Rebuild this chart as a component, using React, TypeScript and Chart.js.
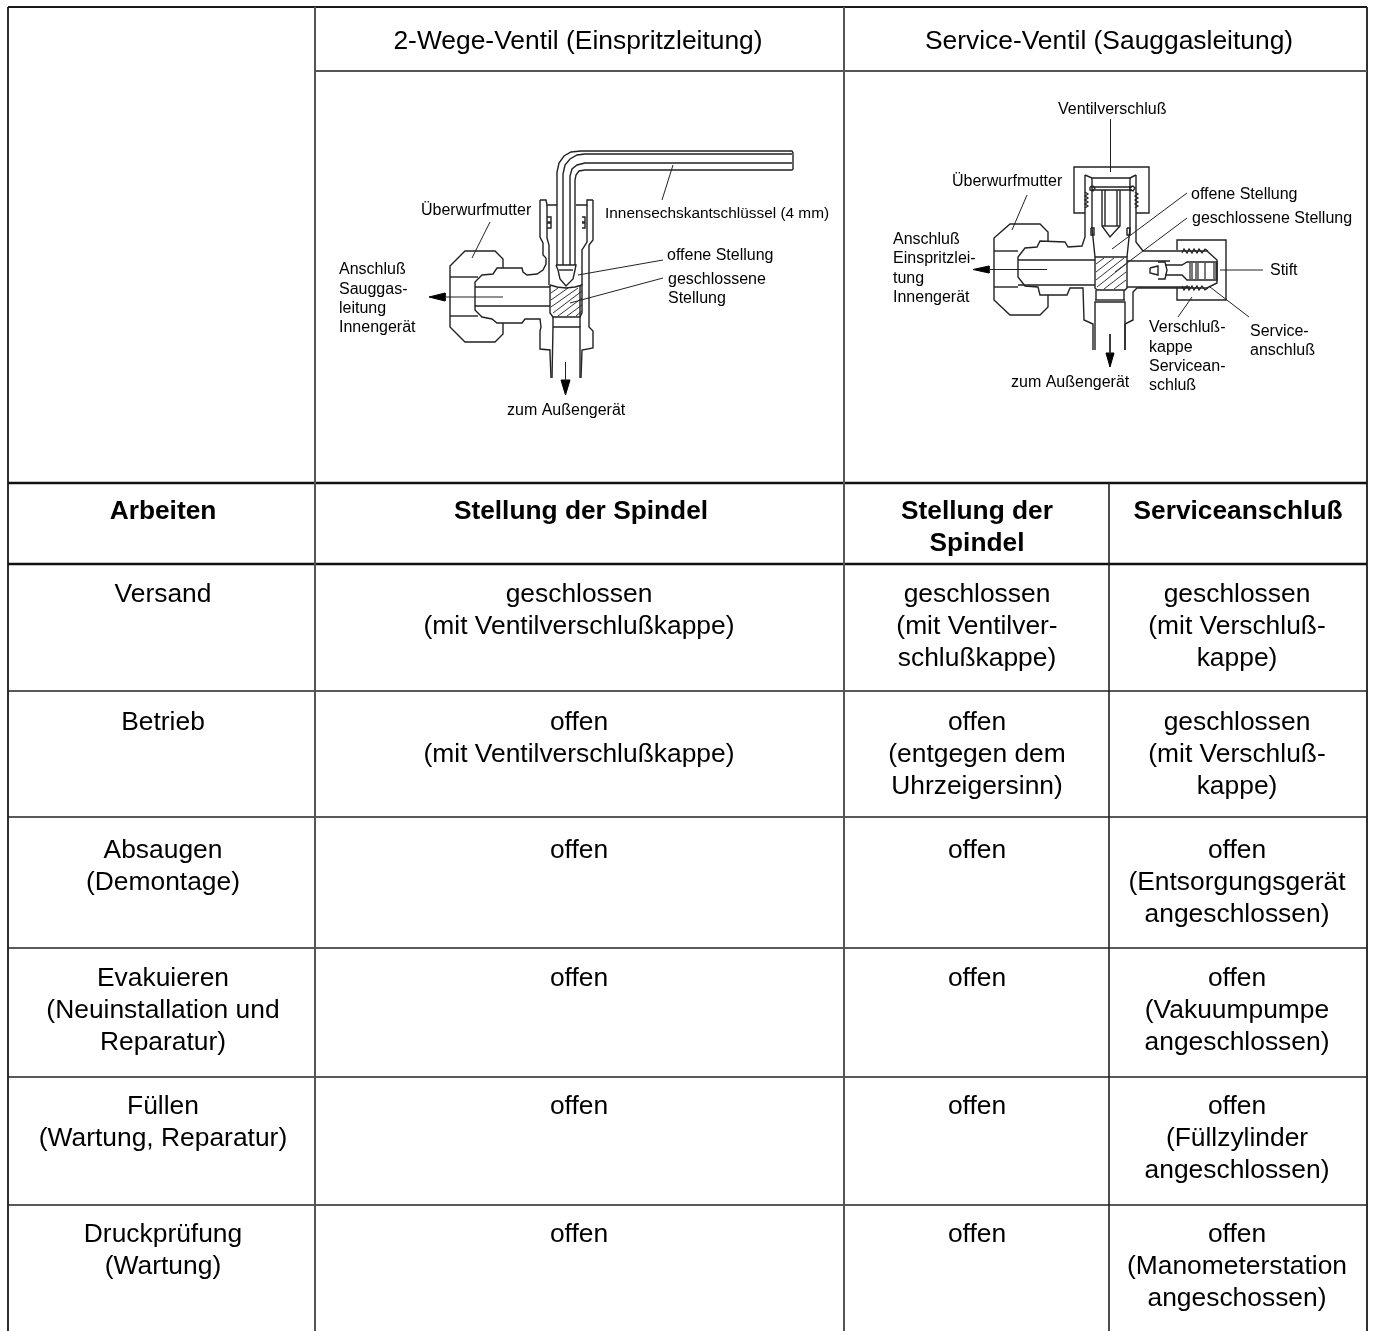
import React, { useEffect, useRef } from "react";
import { Chart, registerables } from "chart.js";

Chart.register(...registerables);

const W = 1374;
const H = 1331;

// ---------- text content ----------
const topHeaders = ["2-Wege-Ventil (Einspritzleitung)", "Service-Ventil (Sauggasleitung)"];
const boldHeaders = [["Arbeiten"], ["Stellung der Spindel"], ["Stellung der", "Spindel"], ["Serviceanschluß"]];
const categories = [
  ["Versand"],
  ["Betrieb"],
  ["Absaugen", "(Demontage)"],
  ["Evakuieren", "(Neuinstallation und", "Reparatur)"],
  ["Füllen", "(Wartung, Reparatur)"],
  ["Druckprüfung", "(Wartung)"],
];
const spindleTwoWay = [
  ["geschlossen", "(mit Ventilverschlußkappe)"],
  ["offen", "(mit Ventilverschlußkappe)"],
  ["offen"],
  ["offen"],
  ["offen"],
  ["offen"],
];
const spindleService = [
  ["geschlossen", "(mit Ventilver-", "schlußkappe)"],
  ["offen", "(entgegen dem", "Uhrzeigersinn)"],
  ["offen"],
  ["offen"],
  ["offen"],
  ["offen"],
];
const servicePort = [
  ["geschlossen", "(mit Verschluß-", "kappe)"],
  ["geschlossen", "(mit Verschluß-", "kappe)"],
  ["offen", "(Entsorgungsgerät", "angeschlossen)"],
  ["offen", "(Vakuumpumpe", "angeschlossen)"],
  ["offen", "(Füllzylinder", "angeschlossen)"],
  ["offen", "(Manometerstation", "angeschossen)"],
];

// ---------- table geometry ----------
const colX = [8, 315, 844, 1109, 1367];
const colCentersBody = [163, 579, 977, 1237];
const colCentersHead = [163, 581, 977, 1238];
const topRuleY = 7;
const subRuleY = 71;
const headRuleY = 483;
const boldRuleY = 564;
const rowRules = [691, 817, 948, 1077, 1205];
const rowTextY = [595, 723, 851, 979, 1107, 1235];

type P = [number, number];
const tableOuter: P[][] = [
  [[colX[0], topRuleY], [colX[4], topRuleY]],
  [[colX[0], topRuleY], [colX[0], H]],
  [[colX[4], topRuleY], [colX[4], H]],
];
const tableGrey: P[][] = [
  [[colX[1], subRuleY], [colX[4], subRuleY]],
  [[colX[1], topRuleY], [colX[1], H]],
  [[colX[2], topRuleY], [colX[2], H]],
];
const tableThin: P[][] = [
  [[colX[3], headRuleY], [colX[3], H]],
  ...rowRules.map((y): P[] => [[colX[0], y], [colX[4], y]]),
];
const tableBold: P[][] = [
  [[colX[0], headRuleY], [colX[4], headRuleY]],
  [[colX[0], boldRuleY], [colX[4], boldRuleY]],
];

// ---------- valve 1 outlines ----------
const valveOne: P[][] = [
  // hex key
  [[557, 265], [557, 172], [559, 163], [564, 156], [571, 152], [581, 151], [792, 151], [793, 153], [793, 169], [792, 170], [585, 170], [579, 171], [576, 175], [575, 180], [575, 265]],
  [[563, 265], [563, 174], [565, 165], [570, 159], [577, 155], [585, 154], [792, 154]],
  [[570, 265], [570, 176], [572, 169], [577, 165], [585, 163], [792, 163]],
  [[556, 265], [576, 265], [575, 270], [573, 279], [566, 286], [560, 279], [558, 270], [556, 265]],
  [[559, 270], [573, 270]],
  // nut
  [[503, 268], [503, 259], [495, 251], [465, 251], [450, 266], [450, 327], [465, 342], [495, 342], [503, 334], [503, 323]],
  [[450, 277], [478, 277]],
  [[450, 316], [478, 316]],
  // tube & body
  [[546, 258], [546, 264], [543, 270], [537, 274], [527, 275], [523, 272], [522, 268], [497, 268], [493, 274], [482, 275], [475, 282], [475, 310], [482, 317], [492, 319], [497, 323], [522, 323], [525, 319], [540, 319], [541, 327], [540, 331], [540, 349], [550, 350], [550, 353], [551, 378]],
  [[475, 287], [550, 287]],
  [[475, 306], [550, 306]],
  [[540, 200], [546, 200], [547, 205], [557, 205]],
  [[540, 200], [540, 237], [543, 243], [543, 255], [546, 258]],
  [[547, 205], [547, 238], [549, 245], [549, 262], [549, 285]],
  [[547, 217], [551, 217], [551, 222], [547, 222]],
  [[547, 223], [551, 223], [551, 228], [547, 228]],
  [[582, 217], [585, 217], [585, 222], [582, 222]],
  [[582, 223], [585, 223], [585, 228], [582, 228]],
  [[593, 200], [587, 200], [587, 205], [576, 205]],
  [[593, 200], [593, 240], [589, 245], [589, 327], [593, 331], [593, 348], [582, 350], [581, 378]],
  [[587, 205], [587, 242], [582, 250], [582, 285]],
  [[580, 285], [580, 327]],
  // spindle
  [[550, 285], [557, 287], [566, 288], [575, 287], [582, 285], [582, 313], [580, 317], [553, 317], [550, 313], [550, 285]],
  // outlet pipe
  [[553, 317], [553, 327], [552, 378]],
  [[553, 327], [580, 327], [580, 378]],
];
const valveOneHatch: P[][] = [
  [[551, 293], [558, 288]],
  [[551, 300], [568, 288]],
  [[551, 307], [578, 288]],
  [[553, 313], [582, 291]],
  [[558, 316], [582, 298]],
  [[567, 316], [582, 305]],
  [[576, 316], [582, 311]],
];
const valveOneLeaders: P[][] = [
  [[490, 222], [472, 258]],
  [[673, 165], [662, 200]],
  [[663, 260], [578, 275]],
  [[663, 278], [570, 303]],
  [[445, 297], [503, 297]],
  [[565.5, 362], [565.5, 381]],
];
const valveOneHeads: P[][] = [
  [[429, 297], [445, 293], [445, 301], [429, 297]],
  [[561, 380], [570, 380], [565.5, 395], [561, 380]],
];

// ---------- valve 2 outlines ----------
const valveTwo: P[][] = [
  // bonnet cap
  [[1085, 213], [1074, 213], [1074, 167], [1149, 167], [1149, 213], [1136, 213]],
  // body top
  [[1085, 175], [1085, 237], [1082, 246], [1068, 247], [1065, 242], [1040, 241], [1037, 247], [1025, 248], [1018, 257], [1018, 277], [1025, 286], [1038, 287], [1040, 295], [1067, 295], [1070, 288], [1083, 288], [1084, 320], [1093, 324], [1093, 350]],
  // nut
  [[1048, 241], [1048, 232], [1040, 224], [1010, 224], [994, 238], [994, 300], [1010, 315], [1040, 315], [1048, 307], [1048, 295]],
  [[994, 251], [1018, 251]],
  [[994, 287], [1018, 287]],
  // right side
  [[1136, 175], [1136, 242], [1143, 251], [1207, 251], [1217, 260], [1217, 283], [1207, 288], [1137, 288], [1133, 292], [1133, 320], [1125, 324], [1125, 350]],
  // service cap
  [[1177, 250], [1177, 240], [1226, 240], [1226, 300], [1177, 300], [1177, 288]],
  // core
  [[1165, 265], [1182, 265], [1187, 262], [1217, 262], [1217, 280], [1187, 280], [1182, 275], [1165, 275]],
  [[1158, 262], [1165, 262], [1167, 270], [1165, 279], [1158, 279]],
  [[1150, 268], [1158, 266], [1158, 275], [1150, 273], [1150, 268]],
  // tube
  [[1018, 260], [1095, 260]],
  [[1018, 285], [1095, 285]],
  [[1127, 261], [1170, 261]],
  [[1127, 287], [1190, 287]],
  // inner top
  [[1085, 175], [1092, 178], [1130, 178], [1136, 175]],
  [[1092, 187], [1132, 187]],
  [[1092, 190], [1132, 190]],
  [[1090, 187], [1093, 186], [1095, 188], [1093, 191], [1090, 190], [1090, 187]],
  [[1130, 187], [1133, 186], [1135, 188], [1133, 191], [1130, 190], [1130, 187]],
  [[1092, 178], [1092, 228], [1095, 257]],
  [[1130, 178], [1130, 228], [1127, 257]],
  [[1091, 228], [1094, 228], [1094, 235], [1091, 235], [1091, 228]],
  [[1127, 228], [1130, 228], [1130, 235], [1127, 235], [1127, 228]],
  [[1102, 190], [1102, 226], [1110, 237], [1120, 226], [1120, 190]],
  [[1105, 190], [1105, 226]],
  [[1117, 190], [1117, 226]],
  [[1102, 226], [1120, 226]],
  // spindle
  [[1095, 257], [1127, 257], [1127, 288], [1125, 290], [1097, 290], [1095, 288], [1095, 257]],
  // outlet
  [[1095, 350], [1095, 302], [1125, 302], [1125, 350]],
  [[1095, 300], [1125, 300]],
  [[1096, 290], [1096, 300]],
  [[1124, 290], [1124, 300]],
];
const valveTwoHatch: P[][] = [
  [[1096, 264], [1104, 258]],
  [[1096, 272], [1114, 258]],
  [[1096, 280], [1124, 258]],
  [[1097, 287], [1126, 264]],
  [[1104, 289], [1126, 272]],
  [[1114, 289], [1126, 280]],
];
const valveTwoDetail: P[][] = [
  [[1085, 192], [1088, 194], [1085, 196], [1088, 198], [1085, 200], [1088, 202], [1085, 204], [1088, 206], [1085, 208]],
  [[1135, 192], [1138, 194], [1135, 196], [1138, 198], [1135, 200], [1138, 202], [1135, 204], [1138, 206], [1135, 208]],
  [[1182, 253], [1184, 249], [1187, 253], [1189, 249], [1192, 253], [1194, 249], [1197, 253], [1199, 249], [1202, 253], [1205, 249], [1208, 251]],
  [[1182, 286], [1184, 290], [1187, 286], [1189, 290], [1192, 286], [1194, 290], [1197, 286], [1199, 290], [1202, 286], [1205, 290], [1208, 288]],
  [[1190, 263], [1190, 279]],
  [[1192, 263], [1192, 279]],
  [[1196, 263], [1196, 279]],
  [[1198, 263], [1198, 279]],
  [[1205, 263], [1205, 279]],
  [[1214, 263], [1214, 279]],
  [[1216, 263], [1216, 279]],
];
const valveTwoLeaders: P[][] = [
  [[1110.5, 119], [1110.5, 172]],
  [[1027, 195], [1012, 230]],
  [[1187, 193], [1112, 249]],
  [[1187, 218], [1115, 272]],
  [[1192, 297], [1178, 317]],
  [[1210, 287], [1249, 317]],
  [[1220, 270], [1263, 270]],
  [[989, 269.5], [1047, 269.5]],
  [[1110, 334], [1110, 354]],
];
const valveTwoHeads: P[][] = [
  [[973, 269.5], [989, 266], [989, 273], [973, 269.5]],
  [[1106, 353], [1114, 353], [1110, 367], [1106, 353]],
];

// ---------- drawing labels ----------
const drawingTexts = [
  "Überwurfmutter", "Innensechskantschlüssel (4 mm)", "offene Stellung", "geschlossene", "Stellung",
  "Anschluß", "Sauggas-", "leitung", "Innengerät", "zum Außengerät",
  "Ventilverschluß", "Überwurfmutter", "offene Stellung", "geschlossene Stellung",
  "Anschluß", "Einspritzlei-", "tung", "Innengerät", "Stift",
  "Verschluß-", "kappe", "Servicean-", "schluß", "Service-", "anschluß", "zum Außengerät",
];
const drawingAnchors: P[] = [
  [421, 211], [605, 214], [667, 256], [668, 280], [668, 299],
  [339, 270], [339, 290], [339, 309], [339, 328], [507, 411],
  [1058, 110], [952, 182], [1191, 195], [1192, 219],
  [893, 240], [893, 259], [893, 279], [893, 298], [1270, 271],
  [1149, 328], [1149, 348], [1149, 367], [1149, 386], [1250, 332], [1250, 351], [1011, 383],
];
const narrowLabel = 1;

const FONT = '"Liberation Sans", Arial, sans-serif';
const LINE_H = 32;

const tablePlugin = {
  id: "tableText",
  afterDatasetsDraw(chart: any) {
    const ctx = chart.ctx as CanvasRenderingContext2D;
    const sx = chart.scales.x;
    const sy = chart.scales.y;
    const put = (t: string, x: number, y: number) =>
      ctx.fillText(t, sx.getPixelForValue(x), sy.getPixelForValue(y));
    ctx.save();
    ctx.fillStyle = "#000";
    ctx.textBaseline = "middle";

    ctx.textAlign = "center";
    ctx.font = `26.4px ${FONT}`;
    put(topHeaders[0], 578, 42);
    put(topHeaders[1], 1109, 42);

    [categories, spindleTwoWay, spindleService, servicePort].forEach((col, c) =>
      col.forEach((lines, r) =>
        lines.forEach((t, i) => put(t, colCentersBody[c], rowTextY[r] + i * LINE_H))
      )
    );

    ctx.font = `bold 26.3px ${FONT}`;
    boldHeaders.forEach((lines, c) =>
      lines.forEach((t, i) => put(t, colCentersHead[c], 512 + i * LINE_H))
    );

    ctx.textAlign = "left";
    drawingTexts.forEach((t, i) => {
      ctx.font = `${i === narrowLabel ? 15.4 : 16}px ${FONT}`;
      put(t, drawingAnchors[i][0], drawingAnchors[i][1]);
    });
    ctx.restore();
  },
};

function strokeSets(paths: P[][], width: number, color: string) {
  return paths.map((p) => ({
    data: p.map(([x, y]) => ({ x, y })),
    showLine: true,
    borderColor: color,
    borderWidth: width,
    pointRadius: 0,
    tension: 0,
    fill: false,
  }));
}
function headSets(paths: P[][]) {
  return paths.map((p) => ({
    data: p.map(([x, y]) => ({ x, y })),
    showLine: true,
    borderColor: "#000",
    backgroundColor: "#000",
    borderWidth: 1,
    pointRadius: 0,
    tension: 0,
    fill: "shape",
  }));
}

export default function App() {
  const ref = useRef<HTMLCanvasElement>(null);
  useEffect(() => {
    const chart = new Chart(ref.current!, {
      type: "scatter",
      data: {
        datasets: [
          ...strokeSets(tableGrey, 2, "#555"),
          ...strokeSets(tableThin, 1.6, "#222"),
          ...strokeSets(tableOuter, 1.8, "#1a1a1a"),
          ...strokeSets(tableBold, 2.5, "#111"),
          ...strokeSets(valveOne, 1.4, "#222"),
          ...strokeSets(valveOneHatch, 1, "#333"),
          ...strokeSets(valveOneLeaders, 1, "#222"),
          ...headSets(valveOneHeads),
          ...strokeSets(valveTwo, 1.4, "#222"),
          ...strokeSets(valveTwoHatch, 1, "#333"),
          ...strokeSets(valveTwoDetail, 1.2, "#222"),
          ...strokeSets(valveTwoLeaders, 1, "#222"),
          ...headSets(valveTwoHeads),
        ] as any,
      },
      options: {
        animation: false,
        responsive: false,
        layout: { padding: 0 },
        clip: false,
        plugins: { legend: { display: false }, tooltip: { enabled: false } },
        scales: {
          x: { type: "linear", min: 0, max: W, display: false },
          y: { type: "linear", min: 0, max: H, reverse: true, display: false },
        },
      } as any,
      plugins: [tablePlugin],
    });
    return () => chart.destroy();
  }, []);
  return (
    <div style={{ position: "absolute", left: 0, top: 0, width: W, height: H, overflow: "hidden", background: "#fff" }}>
      <canvas ref={ref} width={W} height={H} style={{ display: "block" }} />
    </div>
  );
}
